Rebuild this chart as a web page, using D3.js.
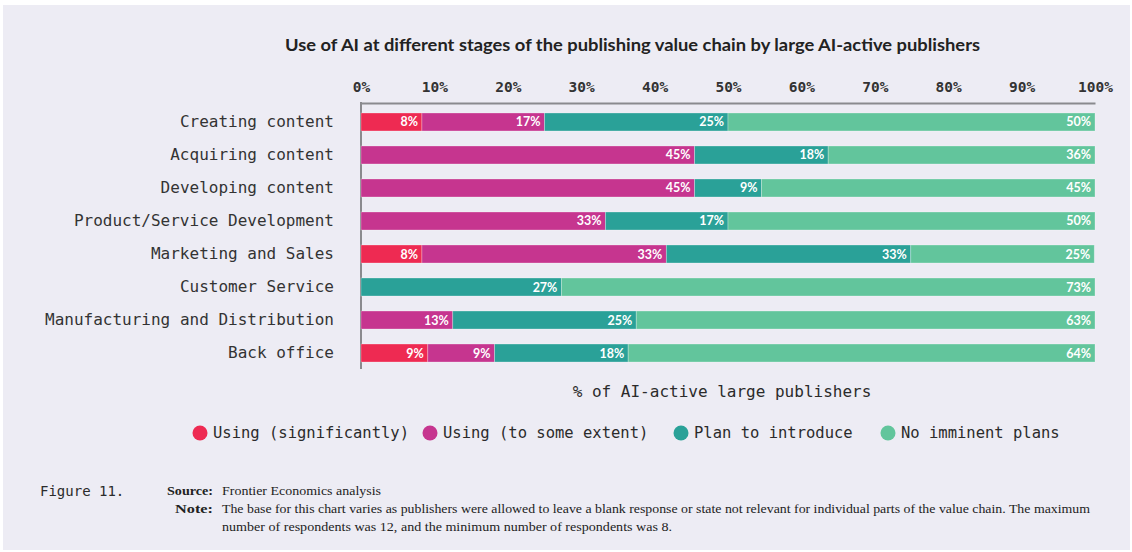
<!DOCTYPE html>
<html>
<head>
<meta charset="utf-8">
<script src="https://cdn.jsdelivr.net/npm/d3@7"></script>
<style>
	body { margin: 0; background: #ffffff; }
	svg { display: block; }
	.mono { font-family: "DejaVu Sans Mono", "Liberation Mono", monospace; fill: #2b2b2b; }
	.seg-label { font-family: Lato, "Open Sans", sans-serif; font-weight: 700; fill: #ffffff; }
	.serif { font-family: "Liberation Serif", "DejaVu Serif", serif; fill: #222; }
</style>
</head>
<body>
<svg id="chart" width="1132" height="552"></svg>
<script>

var categories = [
	"Creating content",
	"Acquiring content",
	"Developing content",
	"Product/Service Development",
	"Marketing and Sales",
	"Customer Service",
	"Manufacturing and Distribution",
	"Back office"
];

var seriesNames = ["Using (significantly)", "Using (to some extent)", "Plan to introduce", "No imminent plans"];
var seriesColors = ["#ee2a52", "#c6358f", "#2aa198", "#62c59c"];

// shares in %, one array per series, in category order
var usingSignificantly = [8.3, 0, 0, 0, 8.3, 0, 0, 9.1];
var usingSomeExtent    = [16.7, 45.45, 45.45, 33.3, 33.3, 0, 12.5, 9.1];
var planToIntroduce    = [25, 18.2, 9.1, 16.7, 33.3, 27.3, 25, 18.2];
var noImminentPlans    = [50, 36.35, 45.45, 50, 25, 72.7, 62.5, 63.6];

var xTicks = [0, 10, 20, 30, 40, 50, 60, 70, 80, 90, 100];

var title = "Use of AI at different stages of the publishing value chain by large AI-active publishers";
var axisTitle = "% of AI-active large publishers";
var figureLabel = "Figure 11.";
var sourceText = "Frontier Economics analysis";
var noteLines = [
	"The base for this chart varies as publishers were allowed to leave a blank response or state not relevant for individual parts of the value chain. The maximum",
	"number of respondents was 12, and the minimum number of respondents was 8."
];

(function() {

	var svg = d3.select("#chart");

	// page background with thin white frame like the scan
	svg.append("rect")
		.attr("x", 3).attr("y", 5)
		.attr("width", 1127).attr("height", 545)
		.attr("fill", "#edecf4");

	var rows = categories.map(function(c, i) {
		return {
			category: c,
			values: [usingSignificantly[i], usingSomeExtent[i], planToIntroduce[i], noImminentPlans[i]]
		};
	});

	var x = d3.scaleLinear().domain([0, 100]).range([361, 1095]);
	var y = d3.scaleBand().domain(categories)
		.range([105.5, 369.5])
		.paddingInner(0.455)
		.paddingOuter(0.227);

	svg.append("text")
		.attr("x", 285).attr("y", 51)
		.attr("textLength", 695)
		.attr("lengthAdjust", "spacingAndGlyphs")
		.style("font-family", "Lato, 'Open Sans', sans-serif")
		.style("font-weight", 700)
		.style("font-size", "17px")
		.style("fill", "#222")
		.text(title);

	// top axis
	var xAxis = d3.axisTop(x)
		.tickValues(xTicks)
		.tickSize(0)
		.tickPadding(11)
		.tickFormat(function(d) { return d + "%"; });

	var gx = svg.append("g")
		.attr("transform", "translate(0,103)")
		.call(xAxis);
	gx.select(".domain").attr("stroke", "#8a8a8e").attr("stroke-width", 2);
	gx.selectAll("text")
		.attr("class", "mono")
		.style("font-size", "14.5px")
		.style("font-weight", 700)
		.style("fill", "#333");

	// left axis
	var yAxis = d3.axisLeft(y).tickSize(0).tickPadding(27);
	var gy = svg.append("g")
		.attr("transform", "translate(" + x(0) + ",0)")
		.call(yAxis);
	gy.select(".domain").attr("stroke", "#8a8a8e").attr("stroke-width", 2)
		.attr("d", "M0,102V369");
	gy.selectAll("text")
		.attr("class", "mono")
		.style("font-size", "16px")
		.style("fill", "#333");

	// stacked segments
	var segments = [];
	rows.forEach(function(r) {
		var acc = 0;
		r.values.forEach(function(v, k) {
			segments.push({ category: r.category, series: k, x0: acc, x1: acc + v, value: v });
			acc += v;
		});
	});

	var bars = svg.append("g").attr("class", "bars");
	bars.selectAll("rect")
		.data(segments.filter(function(d) { return d.value > 0; }))
		.enter()
		.append("rect")
			.attr("x", function(d) { return x(d.x0); })
			.attr("y", function(d) { return y(d.category); })
			.attr("width", function(d) { return x(d.x1) - x(d.x0); })
			.attr("height", y.bandwidth())
			.attr("fill", function(d) { return seriesColors[d.series]; })
			.attr("stroke", "rgba(255,255,255,0.35)")
			.attr("stroke-width", 0.8);

	bars.selectAll("text")
		.data(segments.filter(function(d) { return d.value > 0; }))
		.enter()
		.append("text")
			.attr("class", "seg-label")
			.attr("x", function(d) { return x(d.x1) - 4; })
			.attr("y", function(d) { return y(d.category) + y.bandwidth() / 2; })
			.attr("dy", "0.36em")
			.attr("text-anchor", "end")
			.style("font-size", "12.5px")
			.text(function(d) { return Math.round(d.value) + "%"; });

	// axis title
	svg.append("text")
		.attr("class", "mono")
		.attr("x", 722).attr("y", 397)
		.attr("text-anchor", "middle")
		.style("font-size", "16px")
		.text(axisTitle);

	// legend
	var legendX = [200, 430, 681, 888];
	var legend = svg.append("g").selectAll("g")
		.data(seriesNames)
		.enter()
		.append("g")
			.attr("transform", function(d, i) { return "translate(" + legendX[i] + ",433)"; });
	legend.append("circle")
		.attr("r", 7.5)
		.attr("fill", function(d, i) { return seriesColors[i]; });
	legend.append("text")
		.attr("class", "mono")
		.attr("x", 13)
		.attr("dy", "0.35em")
		.style("font-size", "15.5px")
		.text(function(d) { return d; });

	// footer
	svg.append("text")
		.attr("class", "mono")
		.attr("x", 40).attr("y", 496)
		.style("font-size", "14px")
		.text(figureLabel);

	svg.append("text")
		.attr("class", "serif")
		.attr("x", 167).attr("y", 495)
		.attr("textLength", 46)
		.attr("lengthAdjust", "spacingAndGlyphs")
		.style("font-size", "13px")
		.style("font-weight", 700)
		.text("Source:");
	svg.append("text")
		.attr("class", "serif")
		.attr("x", 222).attr("y", 495)
		.attr("textLength", 159)
		.attr("lengthAdjust", "spacingAndGlyphs")
		.style("font-size", "13px")
		.text(sourceText);

	svg.append("text")
		.attr("class", "serif")
		.attr("x", 175).attr("y", 513)
		.attr("textLength", 38)
		.attr("lengthAdjust", "spacingAndGlyphs")
		.style("font-size", "13px")
		.style("font-weight", 700)
		.text("Note:");
	var noteW = [868, 450];
	svg.selectAll(".note")
		.data(noteLines)
		.enter()
		.append("text")
			.attr("class", "serif note")
			.attr("x", 222)
			.attr("y", function(d, i) { return 513 + i * 18; })
			.attr("textLength", function(d, i) { return noteW[i]; })
			.attr("lengthAdjust", "spacingAndGlyphs")
			.style("font-size", "13px")
			.text(function(d) { return d; });

})();
</script>
</body>
</html>
